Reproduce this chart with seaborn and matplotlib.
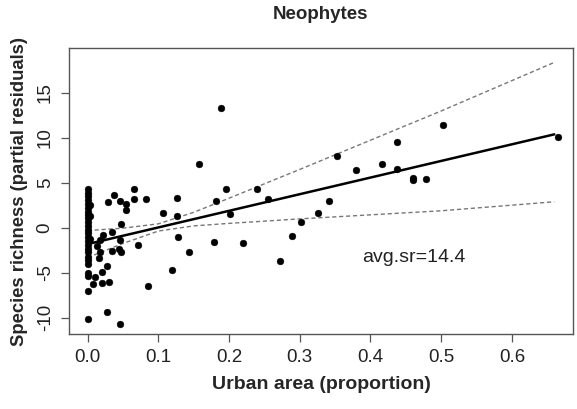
import numpy as np
import pandas as pd
import seaborn as sns
import matplotlib
matplotlib.use("Agg")
import matplotlib.pyplot as plt

# ---- data ----
zero_y = [4.3, 3.9, 3.5, 3.1, 2.7, 2.2, 1.8, 1.4, 1.1, 0.6, 0.2, -0.2, -0.6,
          -1.0, -1.5, -1.9, -2.3, -2.7, -3.2, -3.6, -4.0, -5.0, -5.4, -7.0, -10.1]
near_zero_x = [0.003, 0.003, 0.003]
near_zero_y = [2.5, 1.3, -1.2]
urban_x = [0.007, 0.010, 0.013, 0.016, 0.017, 0.017, 0.020, 0.020, 0.022, 0.027,
           0.027, 0.029, 0.030, 0.034, 0.035, 0.037, 0.045, 0.047, 0.046, 0.046,
           0.046, 0.047, 0.054, 0.054, 0.065, 0.066, 0.071, 0.083, 0.085, 0.107,
           0.119, 0.126, 0.127, 0.128, 0.143, 0.158, 0.178, 0.181, 0.189, 0.196,
           0.201, 0.220, 0.239, 0.255, 0.272, 0.289, 0.302, 0.326, 0.342, 0.353,
           0.379, 0.417, 0.437, 0.437, 0.460, 0.460, 0.478, 0.502, 0.665]
resid_y = [-6.2, -5.5, -2.0, -3.3, -1.3, -2.7, -4.9, -6.1, -0.8, -4.2,
           -9.3, 2.9, -6.0, -0.5, -2.6, 3.6, -2.4, -2.7, 3.0, -1.3,
           -10.7, 0.4, 2.7, 2.0, 4.3, 3.2, -1.9, 3.2, -6.5, 1.7,
           -4.7, 3.3, 1.3, -1.0, -2.7, 7.1, -1.6, 3.0, 13.3, 4.3,
           1.5, -1.7, 4.3, 3.2, -3.7, -0.9, 0.6, 1.6, 3.0, 8.0,
           6.4, 7.1, 6.6, 9.5, 5.6, 5.3, 5.4, 11.4, 10.1]

# fitted line and confidence band
fit_x = [0.0, 0.66]
fit_y = [-1.8, 10.4]
band_x = [0.0, 0.05, 0.10, 0.15, 0.20, 0.30, 0.40, 0.50, 0.66]
band_upper = [-0.3, -0.03, 0.45, 1.73, 3.3, 6.5, 9.75, 13.0, 18.4]
band_lower = [-3.3, -1.73, -0.35, 0.22, 0.5, 1.0, 1.45, 1.9, 2.9]

title = "Neophytes"
xlabel = "Urban area (proportion)"
ylabel = "Species richness (partial residuals)"
note = "avg.sr=14.4"
xticks = [0.0, 0.1, 0.2, 0.3, 0.4, 0.5, 0.6]
yticks = [-10, -5, 0, 5, 10, 15]

# ---- build frame ----
df = pd.DataFrame({
    "x": [0.0] * len(zero_y) + near_zero_x + urban_x,
    "y": zero_y + near_zero_y + resid_y,
})

sns.set_style("white")
plt.rcParams["font.family"] = ["Liberation Sans", "DejaVu Sans"]

fig = plt.figure(figsize=(5.77, 4.09), dpi=100)
ax = fig.add_axes([0.1196, 0.1834, 0.8734, 0.6992])

sns.scatterplot(data=df, x="x", y="y", ax=ax, color="black", s=24,
                edgecolor="black", linewidth=0.3, zorder=3)
sns.lineplot(x=fit_x, y=fit_y, ax=ax, color="black", lw=1.8, zorder=4)
ax.plot(band_x, band_upper, color="#777777", lw=1.0, ls=(0, (3, 2)), zorder=2)
ax.plot(band_x, band_lower, color="#777777", lw=1.0, ls=(0, (3, 2)), zorder=2)

ax.set_xlim(-0.0264, 0.6864)
ax.set_ylim(-11.8, 20.0)
ax.set_xticks(xticks)
ax.set_xticklabels([f"{t:.1f}" for t in xticks])
ax.set_yticks(yticks)
ax.set_yticklabels([str(t) for t in yticks], rotation=90, va="center")

for sp in ax.spines.values():
    sp.set_visible(True)
    sp.set_color("#555555")
    sp.set_linewidth(1.0)

ax.tick_params(axis="both", direction="out", length=6, width=0.9,
               color="#555555", labelsize=13.5, labelcolor="#222222", pad=5,
               bottom=True, left=True)

ax.set_xlabel(xlabel, fontsize=14, fontweight="bold", labelpad=7)
ax.set_ylabel(ylabel, fontsize=13.3, fontweight="bold", labelpad=6)
ax.set_title(title, fontsize=13.5, fontweight="bold", pad=21)
ax.text(0.3876, -3.3, note, fontsize=14, va="center", ha="left", color="#222222")

fig.savefig("out.png", dpi=100)
